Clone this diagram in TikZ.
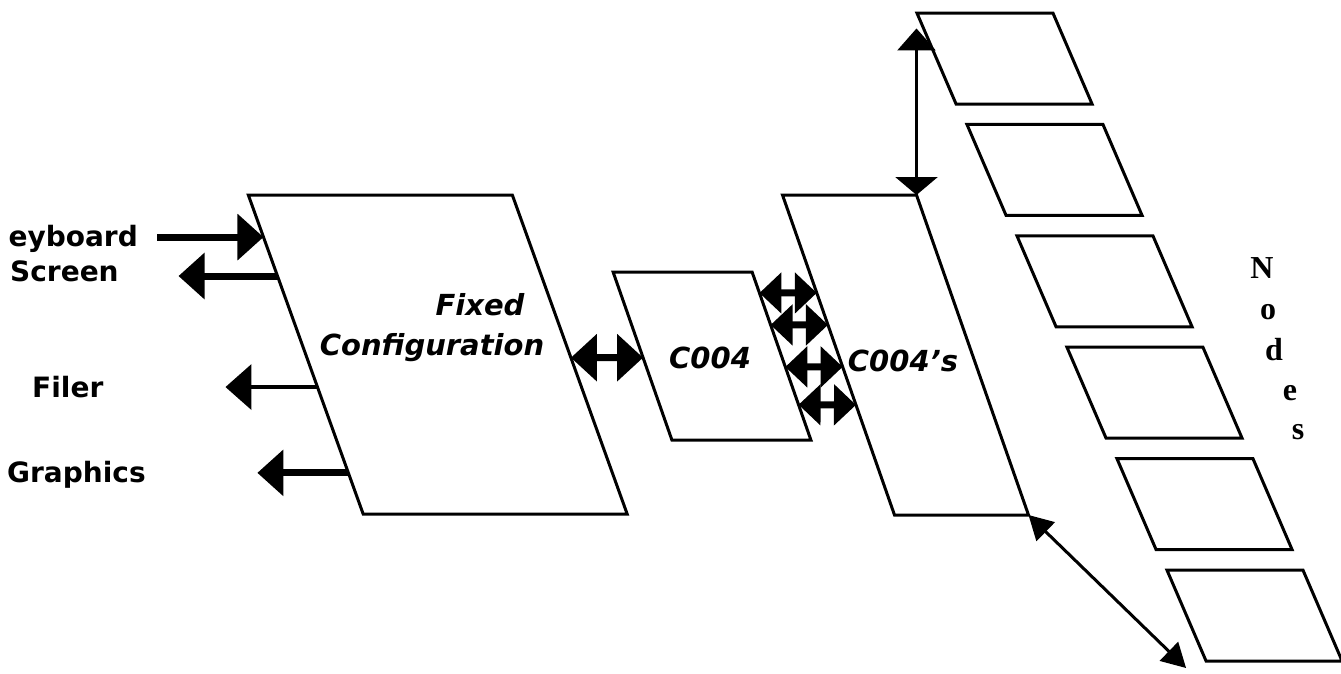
\documentclass[tikz,border=0pt]{standalone}
\usepackage{fontspec}
\setmainfont{DejaVu Sans}
\newfontfamily\letterfont{Liberation Serif}
\usetikzlibrary{arrows.meta, calc}

\begin{document}
\begin{tikzpicture}[x=1pt, y=-1pt,
        board/.style={draw, rectangle, line width=3pt, inner sep=0pt, outer sep=0pt, transform shape},
        cell/.style={board, minimum width=136pt, minimum height=91pt, xslant=-0.43},
        tag/.style={inner sep=0pt, font=\fontsize{28}{34}\selectfont\bfseries},
        boxtext/.style={inner sep=0pt, font=\fontsize{29}{36}\selectfont\bfseries\itshape},
        vlet/.style={inner sep=0pt, font=\fontsize{32}{36}\selectfont\letterfont\bfseries},
        fat/.style={line width=7pt, -{Triangle[length=26pt,width=45pt]}},
        fatboth/.style={line width=7pt, {Triangle[length=26pt,width=46pt]}-{Triangle[length=26pt,width=46pt]}},
        link/.style={line width=7pt, {Triangle[length=22pt,width=40pt]}-{Triangle[length=22pt,width=40pt]}},
        thin/.style={line width=3pt, {Triangle[length=22pt,width=38pt]}-{Triangle[length=18pt,width=42pt]}},
        diag/.style={line width=3pt, {Triangle[length=24pt,width=26pt]}-{Triangle[length=24pt,width=26pt]}}
    ]
    \useasboundingbox (0,0) rectangle (1341,673);

    % processing boards
    \node[board, minimum width=264pt, minimum height=319pt, xslant=-0.36] (fixed) at (437.75,354.5) {};
    \node[board, minimum width=139pt, minimum height=168pt, xslant=-0.35] (c004) at (712,356) {};
    \node[board, minimum width=134pt, minimum height=320pt, xslant=-0.35] (c004s) at (905.5,355) {};

    \node[boxtext, anchor=base] (fixedtop) at (480,315) {Fixed};
    \node[boxtext, anchor=base] (fixedbot) at (432,355) {Configuration};
    \node[boxtext, anchor=base] (c004txt) at (710,368) {C004};
    \node[boxtext, anchor=base] (c004stxt) at (903,371) {C004's};

    % the row of nodes
    \foreach \i in {1,...,6}
        \node[cell] (n\i) at (954.5+50*\i, -52.9+111.4*\i) {};
    \foreach \ch/\x/\y [count=\k] in {N/1262/268, o/1268/312, d/1274/350, e/1290/393, s/1298/432}
        \node[vlet] (nodes\k) at (\x,\y) {\ch};

    % peripherals
    \node[tag, anchor=base east] (kbd) at (138,246) {eyboard};
    \node[tag, anchor=base west] (scr) at (10,281) {Screen};
    \node[tag, anchor=base west] (filer) at (32,397) {Filer};
    \node[tag, anchor=base west] (gfx) at (7,482) {Graphics};

    \coordinate (kbdin) at ($(fixed.north west)!0.132!(fixed.south west)$);
    \coordinate (scrout) at ($(fixed.north west)!0.254!(fixed.south west)$);
    \coordinate (filerout) at ($(fixed.north west)!0.602!(fixed.south west)$);
    \coordinate (gfxout) at ($(fixed.north west)!0.871!(fixed.south west)$);

    \draw[fat] ([xshift=-106pt]kbdin) -- (kbdin);
    \draw[fat] (scrout) -- ([xshift=-99pt]scrout);
    \draw[fat, line width=4pt] (filerout) -- ([xshift=-92pt]filerout);
    \draw[fat] (gfxout) -- ([xshift=-91pt]gfxout);

    % links between the boards
    \draw[fatboth] ($(fixed.north east)!0.51!(fixed.south east)$) -- ($(c004.north west)!0.51!(c004.south west)$);
    \foreach \s/\t in {0.125/0.306, 0.315/0.406, 0.565/0.537, 0.79/0.656}
        \draw[link] ($(c004.north east)!\s!(c004.south east)$) -- ($(c004s.north west)!\t!(c004s.south west)$);

    % span of the node row
    \coordinate (n1l) at ($(n1.north west)!0.17!(n1.south west)$);
    \draw[thin] (n1l -| c004s.north east) -- (c004s.north east);
    \draw[diag] (c004s.south east) -- ([xshift=-20pt, yshift=-7pt]n6.south west);
\end{tikzpicture}
\end{document}
